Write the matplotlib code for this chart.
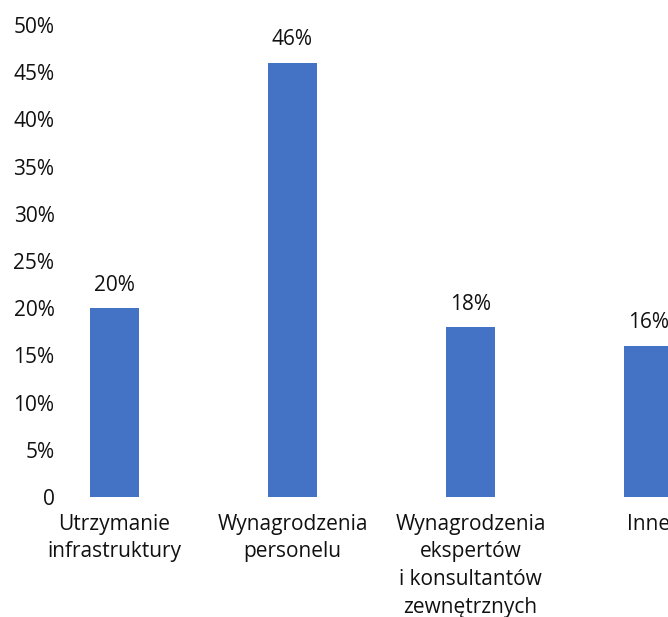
import matplotlib.pyplot as plt
import numpy as np

plt.rcParams['font.family'] = ['Open Sans', 'DejaVu Sans']

categories = ['Utrzymanie\ninfrastruktury', 'Wynagrodzenia\npersonelu',
              'Wynagrodzenia\nekspertów\ni konsultantów\nzewnętrznych', 'Inne']
values = [20, 46, 18, 16]
value_labels = ['20%', '46%', '18%', '16%']
ytick_vals = [0, 5, 10, 15, 20, 25, 30, 35, 40, 45, 50]
ytick_labels = ['0', '5%', '10%', '15%', '20%', '25%', '30%', '35%', '40%', '45%', '50%']

W, H = 668, 617
fig = plt.figure(figsize=(W / 100, H / 100), dpi=100)

# axes in pixels: left 60, right 668, y0 at 497, 50% at 25
left, right, bottom, top = 60, 668, 497, 25
ax = fig.add_axes([left / W, (H - bottom) / H, (right - left) / W, (bottom - top) / H])

ind = np.arange(len(categories))
step = 178.0
c0 = 114.5
ax.set_xlim((left - c0) / step, (right - c0) / step)
ax.set_ylim(0, 50)

txt = '#111111'
bars = ax.bar(ind, values, width=49 / step, color='#4472C4')
ax.bar_label(bars, labels=value_labels, padding=9, fontsize=15, color=txt, clip_on=False)

# the reference is cropped on the right, so "Inne" is cut at the edge
ax.set_xticks(ind)
ax.set_xticklabels(categories, fontsize=15, color=txt, linespacing=1.42)
ax.set_yticks(ytick_vals)
ax.set_yticklabels(ytick_labels, fontsize=15, color=txt)
ax.tick_params(axis='both', length=0)
ax.tick_params(axis='y', pad=4)
ax.tick_params(axis='x', pad=12)
for s in ax.spines.values():
    s.set_visible(False)

fig.savefig('out.png', dpi=100)
